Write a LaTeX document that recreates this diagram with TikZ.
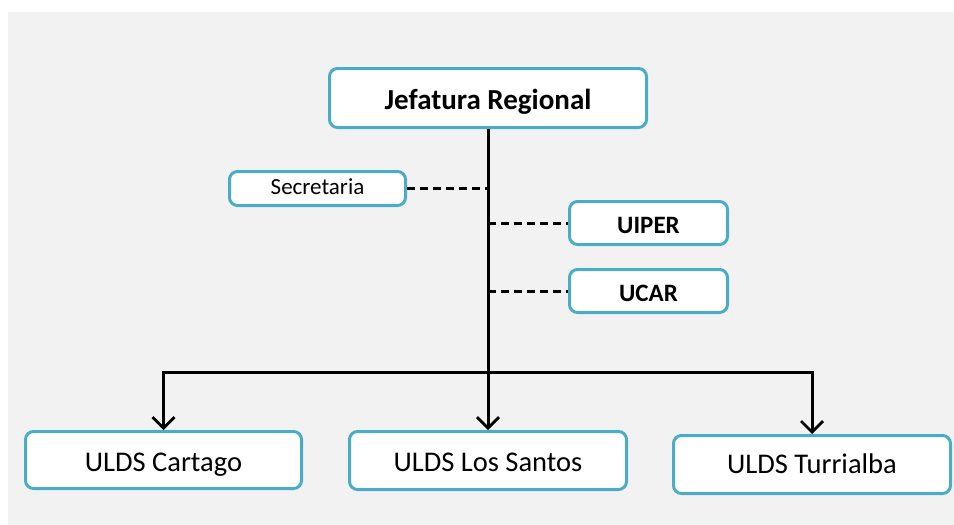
\documentclass[tikz,border=0pt]{standalone}
\usepackage{fontspec}
\setmainfont{Carlito}
\usetikzlibrary{arrows.meta}
\definecolor{bgc}{HTML}{F2F2F2}
\definecolor{bord}{HTML}{4BACC6}
\begin{document}
\begin{tikzpicture}[x=1pt,y=-1pt,
  box/.style={draw=bord, line width=3pt, fill=white, rounded corners=8pt, inner sep=0pt, align=center, text depth=0pt},
  conn/.style={line width=3pt},
  dashline/.style={line width=3pt, dash pattern=on 8pt off 5pt},
  arr/.style={conn, -{Straight Barb[length=11pt,width=22pt,line width=2.8pt]}}]
\useasboundingbox (0,0) rectangle (954,525);
\fill[bgc] (8,12) rectangle (954,525);
\node[box, minimum width=317pt, minimum height=59pt, text height=22pt, font=\fontsize{29}{31}\selectfont\bfseries] (jef) at (488,98) {Jefatura Regional};
\node[box, minimum width=176pt, minimum height=34pt, text height=12pt, font=\fontsize{23}{25}\selectfont] (sec) at (317.5,188.5) {Secretaria};
\node[box, minimum width=158pt, minimum height=43pt, text height=20pt, font=\fontsize{25}{27}\selectfont\bfseries] (uiper) at (648.5,223) {UIPER};
\node[box, minimum width=158pt, minimum height=43pt, text height=20pt, font=\fontsize{25}{27}\selectfont\bfseries] (ucar) at (648.5,291) {UCAR};
\node[box, minimum width=276pt, minimum height=57pt, text height=22pt, font=\fontsize{28.5}{30}\selectfont] (cart) at (163.5,460) {ULDS Cartago};
\node[box, minimum width=277pt, minimum height=58pt, text height=21pt, font=\fontsize{28.5}{30}\selectfont] (los) at (488,460.5) {ULDS Los Santos};
\node[box, minimum width=277pt, minimum height=58pt, text height=17pt, font=\fontsize{28.5}{30}\selectfont] (tur) at (812,464.5) {ULDS Turrialba};
\coordinate (br) at (488,372);
\draw[arr] (jef.south) -- (los.north);
\draw[arr] (br) -| (cart.north);
\draw[arr] (br) -| (tur.north);
\draw[dashline] (sec.east) -- (sec.east -| jef.south);
\draw[dashline] (uiper.west -| jef.south) -- (uiper.west);
\draw[dashline] (ucar.west -| jef.south) -- (ucar.west);
\end{tikzpicture}
\end{document}
